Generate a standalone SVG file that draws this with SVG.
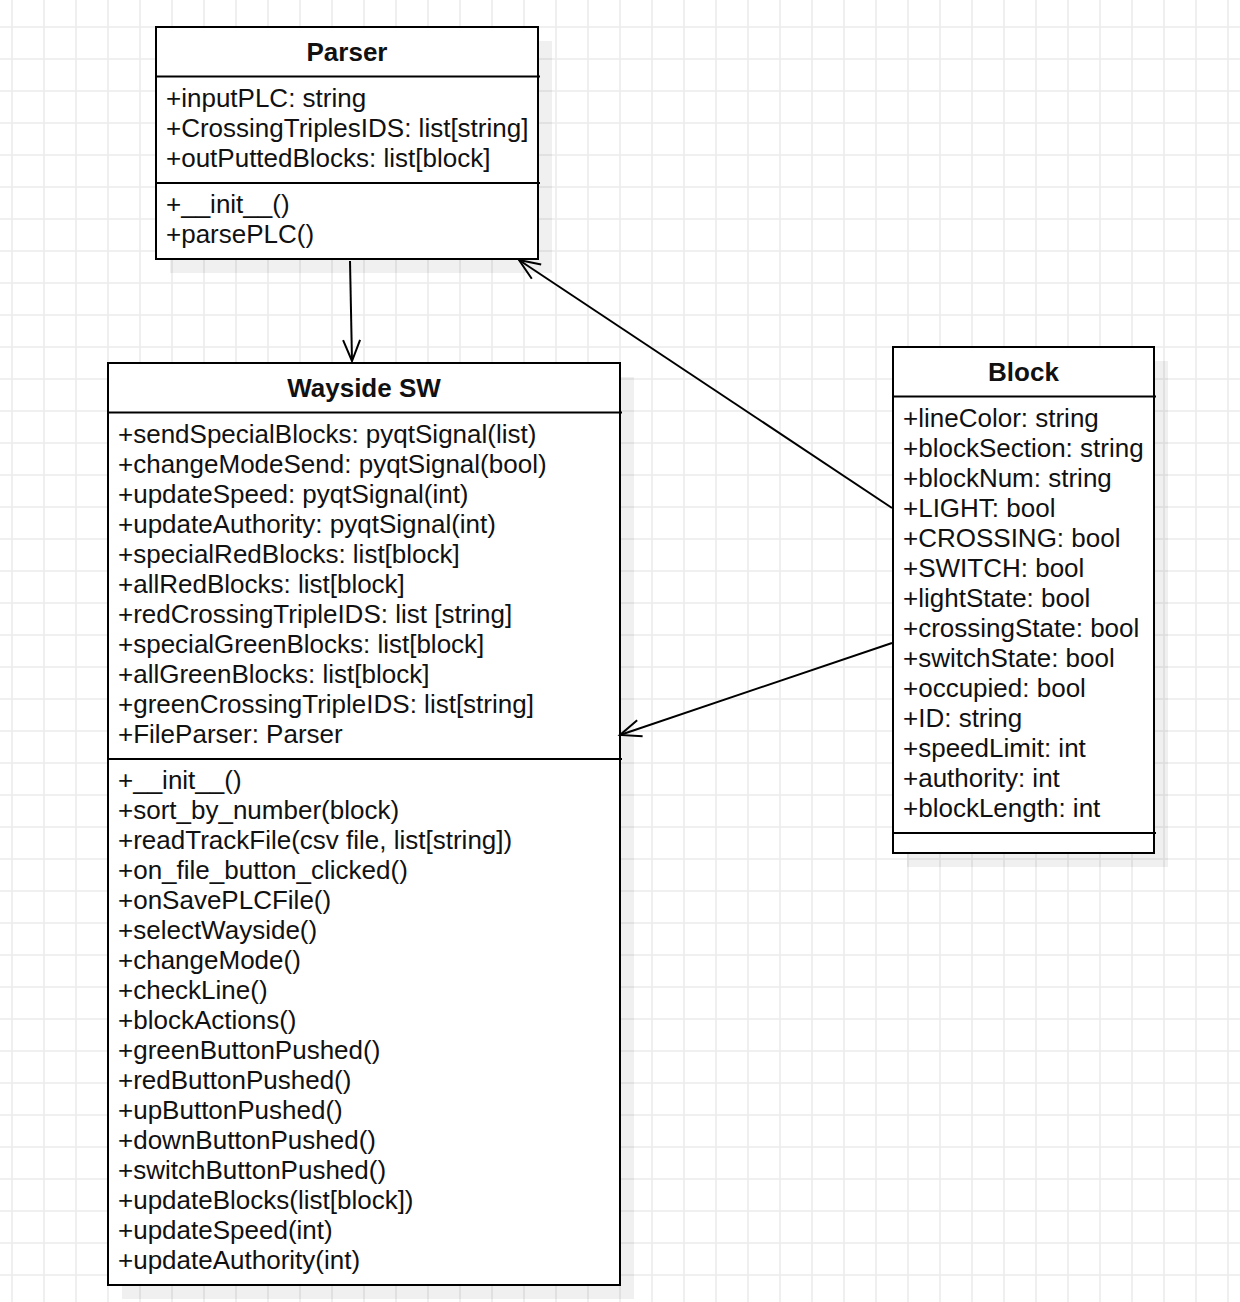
<svg xmlns="http://www.w3.org/2000/svg" width="1240" height="1302" viewBox="0 0 1240 1302">
  <style>
    .box { fill: #ffffff; stroke: #000000; stroke-width: 2; }
    .shadow { fill: #000000; fill-opacity: 0.06; }
    .div { stroke: #000000; stroke-width: 2; }
    .title { font-family: "Liberation Sans", Arial, sans-serif; font-size: 26px; font-weight: bold; fill: #111111; text-anchor: middle; }
    .row { font-family: "Liberation Sans", Arial, sans-serif; font-size: 26px; fill: #111111; }
    .edge { fill: none; stroke: #000000; stroke-width: 2; }
  </style>
  <defs>
    <pattern id="grid" x="-4" y="11" width="32" height="32" patternUnits="userSpaceOnUse">
      <path d="M16,0 V32 M0,16 H32" stroke="#ebebeb" stroke-width="1.6" fill="none"/>
    </pattern>
    <marker id="open" markerUnits="userSpaceOnUse" markerWidth="30" markerHeight="24" viewBox="-24 -12 30 24" refX="0" refY="0" orient="auto">
      <path d="M-21,-8.5 L0,0 L-21,8.5" fill="none" stroke="#000000" stroke-width="2"/>
    </marker>
  </defs>

  <!-- background + grid -->
  <rect x="0" y="0" width="1240" height="1302" fill="#ffffff"/>
  <rect x="0" y="0" width="1240" height="1302" fill="url(#grid)"/>

  <!-- Parser class -->
  <g id="parser">
    <rect class="shadow" x="170" y="41" width="382" height="232"/>
    <rect class="box" x="156" y="27" width="382" height="232"/>
    <line class="div" x1="156" y1="76.5" x2="540" y2="76.5"/>
    <line class="div" x1="156" y1="183" x2="540" y2="183"/>
    <text class="title" x="347" y="61">Parser</text>
    <text class="row" x="166" y="106.5">+inputPLC: string</text>
    <text class="row" x="166" y="136.5">+CrossingTriplesIDS: list[string]</text>
    <text class="row" x="166" y="166.5">+outPuttedBlocks: list[block]</text>
    <text class="row" x="166" y="213">+__init__()</text>
    <text class="row" x="166" y="243">+parsePLC()</text>
  </g>

  <!-- Wayside SW class -->
  <g id="wayside">
    <rect class="shadow" x="122" y="377" width="512" height="922"/>
    <rect class="box" x="108" y="363" width="512" height="922"/>
    <line class="div" x1="108" y1="412.5" x2="622" y2="412.5"/>
    <line class="div" x1="108" y1="759" x2="622" y2="759"/>
    <text class="title" x="364" y="397">Wayside SW</text>
    <text class="row" x="118" y="442.5">+sendSpecialBlocks: pyqtSignal(list)</text>
    <text class="row" x="118" y="472.5">+changeModeSend: pyqtSignal(bool)</text>
    <text class="row" x="118" y="502.5">+updateSpeed: pyqtSignal(int)</text>
    <text class="row" x="118" y="532.5">+updateAuthority: pyqtSignal(int)</text>
    <text class="row" x="118" y="562.5">+specialRedBlocks: list[block]</text>
    <text class="row" x="118" y="592.5">+allRedBlocks: list[block]</text>
    <text class="row" x="118" y="622.5">+redCrossingTripleIDS: list [string]</text>
    <text class="row" x="118" y="652.5">+specialGreenBlocks: list[block]</text>
    <text class="row" x="118" y="682.5">+allGreenBlocks: list[block]</text>
    <text class="row" x="118" y="712.5">+greenCrossingTripleIDS: list[string]</text>
    <text class="row" x="118" y="742.5">+FileParser: Parser</text>
    <text class="row" x="118" y="789">+__init__()</text>
    <text class="row" x="118" y="819">+sort_by_number(block)</text>
    <text class="row" x="118" y="849">+readTrackFile(csv file, list[string])</text>
    <text class="row" x="118" y="879">+on_file_button_clicked()</text>
    <text class="row" x="118" y="909">+onSavePLCFile()</text>
    <text class="row" x="118" y="939">+selectWayside()</text>
    <text class="row" x="118" y="969">+changeMode()</text>
    <text class="row" x="118" y="999">+checkLine()</text>
    <text class="row" x="118" y="1029">+blockActions()</text>
    <text class="row" x="118" y="1059">+greenButtonPushed()</text>
    <text class="row" x="118" y="1089">+redButtonPushed()</text>
    <text class="row" x="118" y="1119">+upButtonPushed()</text>
    <text class="row" x="118" y="1149">+downButtonPushed()</text>
    <text class="row" x="118" y="1179">+switchButtonPushed()</text>
    <text class="row" x="118" y="1209">+updateBlocks(list[block])</text>
    <text class="row" x="118" y="1239">+updateSpeed(int)</text>
    <text class="row" x="118" y="1269">+updateAuthority(int)</text>
  </g>

  <!-- Block class -->
  <g id="block">
    <rect class="shadow" x="907" y="361" width="261" height="506"/>
    <rect class="box" x="893" y="347" width="261" height="506"/>
    <line class="div" x1="893" y1="396.5" x2="1156" y2="396.5"/>
    <line class="div" x1="893" y1="833" x2="1156" y2="833"/>
    <text class="title" x="1023.5" y="381">Block</text>
    <text class="row" x="903" y="426.5">+lineColor: string</text>
    <text class="row" x="903" y="456.5">+blockSection: string</text>
    <text class="row" x="903" y="486.5">+blockNum: string</text>
    <text class="row" x="903" y="516.5">+LIGHT: bool</text>
    <text class="row" x="903" y="546.5">+CROSSING: bool</text>
    <text class="row" x="903" y="576.5">+SWITCH: bool</text>
    <text class="row" x="903" y="606.5">+lightState: bool</text>
    <text class="row" x="903" y="636.5">+crossingState: bool</text>
    <text class="row" x="903" y="666.5">+switchState: bool</text>
    <text class="row" x="903" y="696.5">+occupied: bool</text>
    <text class="row" x="903" y="726.5">+ID: string</text>
    <text class="row" x="903" y="756.5">+speedLimit: int</text>
    <text class="row" x="903" y="786.5">+authority: int</text>
    <text class="row" x="903" y="816.5">+blockLength: int</text>
  </g>

  <!-- associations -->
  <g id="connectors">
    <path class="edge" d="M350,261 L352,361" marker-end="url(#open)"/>
    <path class="edge" d="M892,508 L519,260" marker-end="url(#open)"/>
    <path class="edge" d="M892,643 L620,735" marker-end="url(#open)"/>
  </g>
</svg>
